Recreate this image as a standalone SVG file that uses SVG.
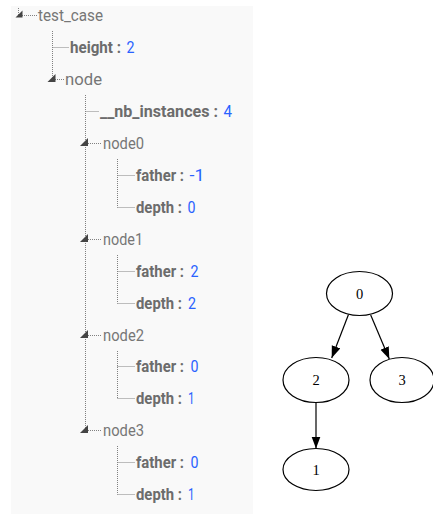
<svg xmlns="http://www.w3.org/2000/svg" width="433" height="514" viewBox="0 0 433 514">
<style>
.bg{fill:#f9f9f9}
.dot{stroke:#808080;stroke-width:1;stroke-dasharray:1,1;fill:none}
.exp{fill:#444}
.lbl{font-family:Roboto,"Liberation Sans",sans-serif;font-size:16.5px;fill:#767676}
.key{font-family:Roboto,"Liberation Sans",sans-serif;font-size:16.5px;font-weight:bold;fill:#6c6c6c}
.val{font-family:Roboto,"Liberation Sans",sans-serif;font-size:16.5px;fill:#2962ff}
.gn ellipse{fill:none;stroke:#000;stroke-width:1.2}
.gn text{font-family:"Liberation Serif",serif;font-size:14.5px;fill:#000;text-anchor:middle}
.edge{stroke:#000;stroke-width:1.2;fill:none}
</style>
<defs>
<marker id="ah" markerWidth="12" markerHeight="10" refX="12" refY="5" orient="auto" markerUnits="userSpaceOnUse">
<path d="M0,0.5 L12,5 L0,9.5 z" fill="#000"/>
</marker>
</defs>
<rect class="bg" x="11" y="6" width="242" height="508"/>
<g id="tree-lines">
<line class="dot" x1="18.5" y1="8" x2="18.5" y2="16"/>
<line class="dot" x1="22" y1="15.5" x2="37" y2="15.5"/>
<line class="dot" x1="52.5" y1="31" x2="52.5" y2="79"/>
<line class="dot" x1="52.5" y1="47.5" x2="69" y2="47.5"/>
<line class="dot" x1="55" y1="79.5" x2="64" y2="79.5"/>
<line class="dot" x1="85.5" y1="95" x2="85.5" y2="430"/>
<line class="dot" x1="85.5" y1="111.5" x2="99" y2="111.5"/>
<line class="dot" x1="88" y1="143.5" x2="102" y2="143.5"/>
<line class="dot" x1="117.5" y1="159" x2="117.5" y2="207.5"/>
<line class="dot" x1="117.5" y1="175.5" x2="135" y2="175.5"/>
<line class="dot" x1="117.5" y1="207.5" x2="135" y2="207.5"/>
<line class="dot" x1="88" y1="239.5" x2="102" y2="239.5"/>
<line class="dot" x1="117.5" y1="255" x2="117.5" y2="303.5"/>
<line class="dot" x1="117.5" y1="271.5" x2="135" y2="271.5"/>
<line class="dot" x1="117.5" y1="303.5" x2="135" y2="303.5"/>
<line class="dot" x1="88" y1="335.5" x2="102" y2="335.5"/>
<line class="dot" x1="117.5" y1="351" x2="117.5" y2="398.5"/>
<line class="dot" x1="117.5" y1="366.5" x2="135" y2="366.5"/>
<line class="dot" x1="117.5" y1="398.5" x2="135" y2="398.5"/>
<line class="dot" x1="88" y1="430.5" x2="102" y2="430.5"/>
<line class="dot" x1="117.5" y1="446" x2="117.5" y2="494.5"/>
<line class="dot" x1="117.5" y1="462.5" x2="135" y2="462.5"/>
<line class="dot" x1="117.5" y1="494.5" x2="135" y2="494.5"/>
</g>
<g id="test_case">
<polygon class="exp" points="15.5,17.5 22.5,17.5 22.5,10.5"/>
<text class="lbl" x="38" y="21" textLength="65" lengthAdjust="spacingAndGlyphs">test_case</text>
</g>
<g id="height">
<text class="key" x="70" y="53" textLength="51" lengthAdjust="spacingAndGlyphs">height :</text>
<text class="val" x="126.5" y="53" textLength="8" lengthAdjust="spacingAndGlyphs">2</text>
</g>
<g id="node">
<polygon class="exp" points="47.5,82 55.5,82 55.5,74"/>
<text class="lbl" x="65" y="85" textLength="37" lengthAdjust="spacingAndGlyphs">node</text>
</g>
<g id="nb_instances">
<text class="key" x="100" y="117" textLength="118" lengthAdjust="spacingAndGlyphs">__nb_instances :</text>
<text class="val" x="223.5" y="117" textLength="8.5" lengthAdjust="spacingAndGlyphs">4</text>
</g>
<g id="node0">
<polygon class="exp" points="80,146 88,146 88,138"/>
<text class="lbl" x="103" y="149" textLength="41" lengthAdjust="spacingAndGlyphs">node0</text>
</g>
<g id="node0-father">
<text class="key" x="136" y="180.5" textLength="48" lengthAdjust="spacingAndGlyphs">father :</text>
<text class="val" x="189.5" y="180.5" textLength="15" lengthAdjust="spacingAndGlyphs">-1</text>
</g>
<g id="node0-depth">
<text class="key" x="136" y="212.5" textLength="46" lengthAdjust="spacingAndGlyphs">depth :</text>
<text class="val" x="187.5" y="212.5" textLength="8" lengthAdjust="spacingAndGlyphs">0</text>
</g>
<g id="node1">
<polygon class="exp" points="80,242 88,242 88,234"/>
<text class="lbl" x="103" y="245" textLength="40" lengthAdjust="spacingAndGlyphs">node1</text>
</g>
<g id="node1-father">
<text class="key" x="136" y="276.5" textLength="48" lengthAdjust="spacingAndGlyphs">father :</text>
<text class="val" x="190.5" y="276.5" textLength="8" lengthAdjust="spacingAndGlyphs">2</text>
</g>
<g id="node1-depth">
<text class="key" x="136" y="308.5" textLength="46" lengthAdjust="spacingAndGlyphs">depth :</text>
<text class="val" x="188" y="308.5" textLength="8" lengthAdjust="spacingAndGlyphs">2</text>
</g>
<g id="node2">
<polygon class="exp" points="80,338 88,338 88,330"/>
<text class="lbl" x="103" y="341" textLength="41" lengthAdjust="spacingAndGlyphs">node2</text>
</g>
<g id="node2-father">
<text class="key" x="136" y="372" textLength="48" lengthAdjust="spacingAndGlyphs">father :</text>
<text class="val" x="190.5" y="372" textLength="8" lengthAdjust="spacingAndGlyphs">0</text>
</g>
<g id="node2-depth">
<text class="key" x="136" y="404" textLength="46" lengthAdjust="spacingAndGlyphs">depth :</text>
<text class="val" x="188" y="404" textLength="6.5" lengthAdjust="spacingAndGlyphs">1</text>
</g>
<g id="node3">
<polygon class="exp" points="80,433 88,433 88,425"/>
<text class="lbl" x="103" y="436" textLength="41" lengthAdjust="spacingAndGlyphs">node3</text>
</g>
<g id="node3-father">
<text class="key" x="136" y="468" textLength="48" lengthAdjust="spacingAndGlyphs">father :</text>
<text class="val" x="190.5" y="468" textLength="8" lengthAdjust="spacingAndGlyphs">0</text>
</g>
<g id="node3-depth">
<text class="key" x="136" y="500" textLength="46" lengthAdjust="spacingAndGlyphs">depth :</text>
<text class="val" x="188" y="500" textLength="6.5" lengthAdjust="spacingAndGlyphs">1</text>
</g>

<g id="edges">
<line class="edge" x1="348.5" y1="314.5" x2="331.7" y2="358" marker-end="url(#ah)"/>
<line class="edge" x1="370.7" y1="315" x2="389.3" y2="359" marker-end="url(#ah)"/>
<line class="edge" x1="316" y1="402.5" x2="316" y2="448.5" marker-end="url(#ah)"/>
</g>
<g id="g0" class="gn"><ellipse cx="359.5" cy="293.5" rx="33" ry="22"/><text x="359.5" y="298.5">0</text></g>
<g id="g2" class="gn"><ellipse cx="316" cy="380" rx="33" ry="22.5"/><text x="316" y="385">2</text></g>
<g id="g3" class="gn"><ellipse cx="402" cy="380" rx="32" ry="22.5"/><text x="402" y="385">3</text></g>
<g id="g1" class="gn"><ellipse cx="316" cy="469.5" rx="33" ry="21"/><text x="316" y="474.5">1</text></g>
</svg>
